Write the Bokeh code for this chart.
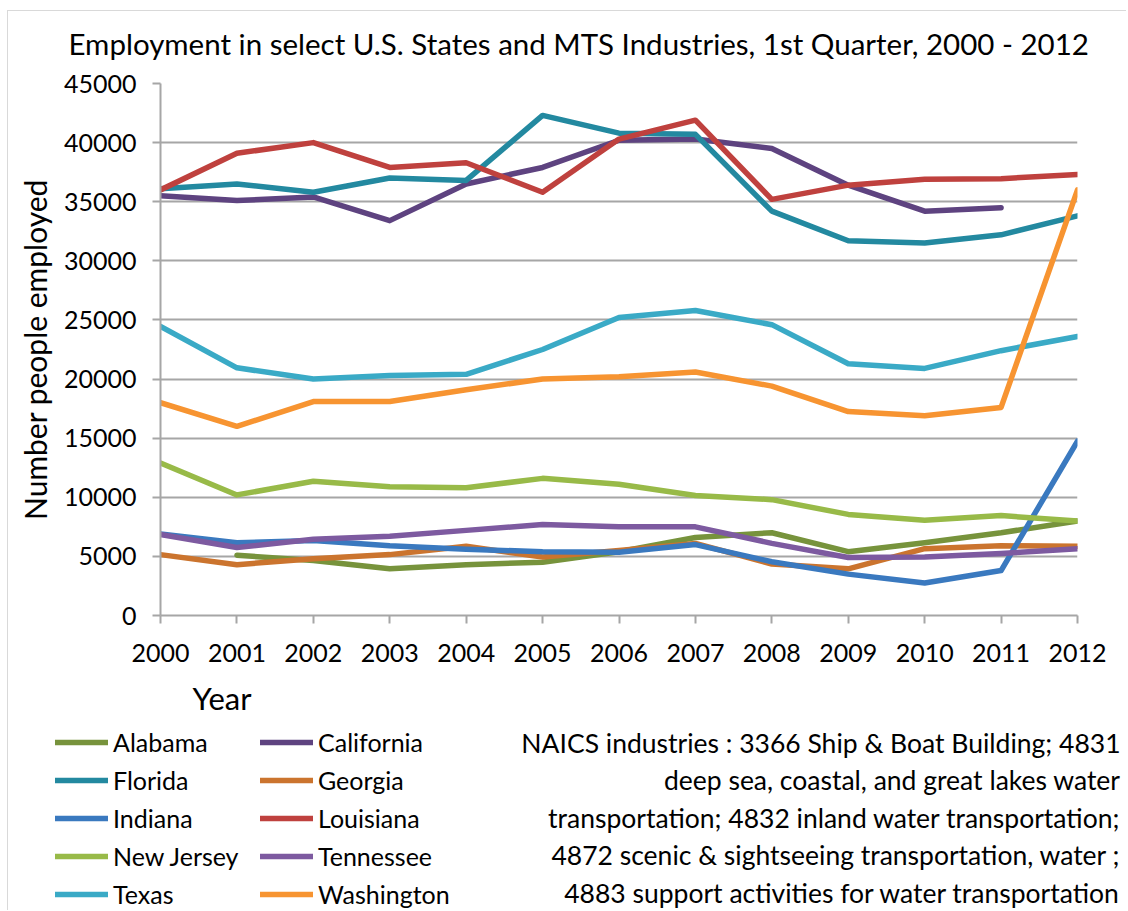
from bokeh.plotting import figure
from bokeh.layouts import column
from bokeh.models import Range1d, SingleIntervalTicker, Legend, LegendItem, Label
from bokeh.embed import file_html
from bokeh.resources import INLINE

nan = float("nan")

years = list(range(2000, 2013))

alabama    = [nan, 5100, 4650, 3950, 4300, 4500, 5400, 6600, 7000, 5400, 6150, 7000, 8000]
california = [35500, 35100, 35400, 33400, 36500, 37900, 40200, 40300, 39500, 36400, 34200, 34500, nan]
florida    = [36100, 36500, 35800, 37000, 36800, 42300, 40800, 40700, 34200, 31700, 31500, 32200, 33800]
georgia    = [5150, 4300, 4800, 5150, 5850, 4950, 5500, 6100, 4350, 3950, 5650, 5900, 5850]
indiana    = [6900, 6150, 6350, 5900, 5600, 5400, 5350, 6000, 4550, 3500, 2750, 3800, 14750]
louisiana  = [36000, 39100, 40000, 37900, 38300, 35800, 40300, 41900, 35200, 36400, 36900, 36950, 37300]
new_jersey = [12900, 10200, 11350, 10900, 10800, 11600, 11100, 10150, 9800, 8550, 8050, 8450, 8000]
tennessee  = [6850, 5750, 6450, 6700, 7200, 7700, 7500, 7500, 6100, 4900, 4950, 5250, 5650]
texas      = [24450, 20950, 20000, 20300, 20400, 22500, 25200, 25800, 24600, 21300, 20900, 22400, 23600]
washington = [18000, 16000, 18100, 18100, 19100, 20000, 20200, 20600, 19400, 17250, 16900, 17600, 36000]

series_names = ["Alabama", "California", "Florida", "Georgia", "Indiana",
                "Louisiana", "New Jersey", "Tennessee", "Texas", "Washington"]
series_values = [alabama, california, florida, georgia, indiana,
                 louisiana, new_jersey, tennessee, texas, washington]
series_colors = ["#77933C", "#5E4380", "#2389A0", "#CB742E", "#3A79BF",
                 "#BF413E", "#98BA48", "#7D5AA0", "#3AAAC6", "#F79431"]

legend_col1 = ["Alabama", "Florida", "Indiana", "New Jersey", "Texas"]
legend_col2 = ["California", "Georgia", "Louisiana", "Tennessee", "Washington"]

y_tick_interval = 5000
title_text = "Employment in select U.S. States and MTS Industries, 1st Quarter, 2000 - 2012"
y_axis_title = "Number people employed"
x_axis_title = "Year"
note_lines = [
    "NAICS industries : 3366 Ship & Boat Building; 4831",
    "deep sea, coastal, and great lakes water",
    "transportation; 4832 inland water transportation;",
    "4872 scenic & sightseeing transportation, water ;",
    "4883 support activities for water transportation",
]

FONT = "Lato"
GRID = "#A6A6A6"
LW = 5.5

X0 = 7          # page x of the layout's left edge
W = 1119
H1 = 677
H2 = 233

# ---------------- main chart ----------------
p = figure(width=W, height=H1, output_backend="svg", toolbar_location=None,
           x_range=Range1d(2000, 2012), y_range=Range1d(0, 45000),
           min_border_left=160 - X0, min_border_right=W - (1077 - X0),
           min_border_top=83, min_border_bottom=H1 - 615)
p.frame_align = False

p.title.text = title_text
p.title.text_font = FONT
p.title.text_font_size = "29.5px"
p.title.text_font_style = "normal"
p.title.text_color = "#000000"
p.title.align = "left"
p.title.offset = -92
p.title.standoff = 45

p.outline_line_color = None
p.background_fill_color = "white"
p.border_fill_alpha = 0

p.xaxis.ticker = SingleIntervalTicker(interval=1)
p.yaxis.ticker = SingleIntervalTicker(interval=y_tick_interval)
for ax in (p.xaxis, p.yaxis):
    ax.axis_line_color = GRID
    ax.axis_line_width = 2
    ax.major_tick_line_color = GRID
    ax.major_tick_line_width = 2
    ax.major_tick_in = 0
    ax.major_tick_out = 8
    ax.minor_tick_line_color = None
    ax.major_label_text_font = FONT
    ax.major_label_text_font_size = "25px"
    ax.major_label_text_color = "#000000"
p.xaxis.major_label_standoff = 20
p.yaxis.major_label_standoff = 16

p.yaxis.axis_label = y_axis_title
p.yaxis.axis_label_text_font = FONT
p.yaxis.axis_label_text_font_size = "30px"
p.yaxis.axis_label_text_font_style = "normal"
p.yaxis.axis_label_text_color = "#000000"
p.yaxis.axis_label_standoff = 8

p.xgrid.grid_line_color = None
p.ygrid.grid_line_color = GRID
p.ygrid.grid_line_width = 2

for name, vals, col in zip(series_names, series_values, series_colors):
    p.line(years, vals, line_color=col, line_width=LW,
           line_cap="round", line_join="round", name=name)

# ---------------- legend + notes strip ----------------
p2 = figure(width=W, height=H2, output_backend="svg", toolbar_location=None,
            x_axis_location=None, y_axis_location=None,
            x_range=Range1d(0, 1), y_range=Range1d(0, 1),
            min_border=0, min_border_left=0, min_border_right=0,
            min_border_top=0, min_border_bottom=0)
p2.frame_align = False
p2.outline_line_color = None
p2.grid.visible = False
p2.background_fill_alpha = 0
p2.border_fill_alpha = 0

# legend keys: same series, drawn outside this strip's (0..1) view
proxies = {}
for name, vals, col in zip(series_names, series_values, series_colors):
    proxies[name] = p2.line(years, vals, line_color=col, line_width=LW,
                            line_cap="round")

for names, loc in ((legend_col1, (55 - X0, 1)), (legend_col2, (260 - X0, 1))):
    lg = Legend(items=[LegendItem(label=n, renderers=[proxies[n]]) for n in names],
                location=loc, orientation="vertical")
    lg.padding = 0
    lg.margin = 0
    lg.spacing = 8
    lg.glyph_width = 53
    lg.glyph_height = 30
    lg.label_height = 30
    lg.label_standoff = 5
    lg.label_text_font = FONT
    lg.label_text_font_size = "25px"
    lg.label_text_color = "#000000"
    lg.border_line_color = None
    lg.background_fill_alpha = 0
    p2.add_layout(lg)

P2_TOP = H1  # page y of strip top


def sy(page_y):
    return H2 - (page_y - P2_TOP)


p2.add_layout(Label(x=192 - X0, y=sy(697), x_units="screen", y_units="screen",
                    text=x_axis_title, text_font=FONT, text_font_size="31px",
                    text_baseline="middle", text_align="left", text_color="#000000"))

for i, line in enumerate(note_lines):
    p2.add_layout(Label(x=1120 - X0, y=sy(742 + 37.5 * i), x_units="screen", y_units="screen",
                        text=line, text_font=FONT, text_font_size="26.5px",
                        text_baseline="middle", text_align="right",
                        text_color="#000000"))

frame_lines = {
    "background-image": "linear-gradient(#D9D9D9, #D9D9D9), linear-gradient(#D9D9D9, #D9D9D9)",
    "background-size": "100% 1px, 1px calc(100% - 10px)",
    "background-position": "0 10px, 0 10px",
    "background-repeat": "no-repeat",
}
layout = column(p, p2, margin=(0, 0, 0, X0), spacing=0, styles=frame_lines)

open("out.html", "w").write(file_html(layout, INLINE))
